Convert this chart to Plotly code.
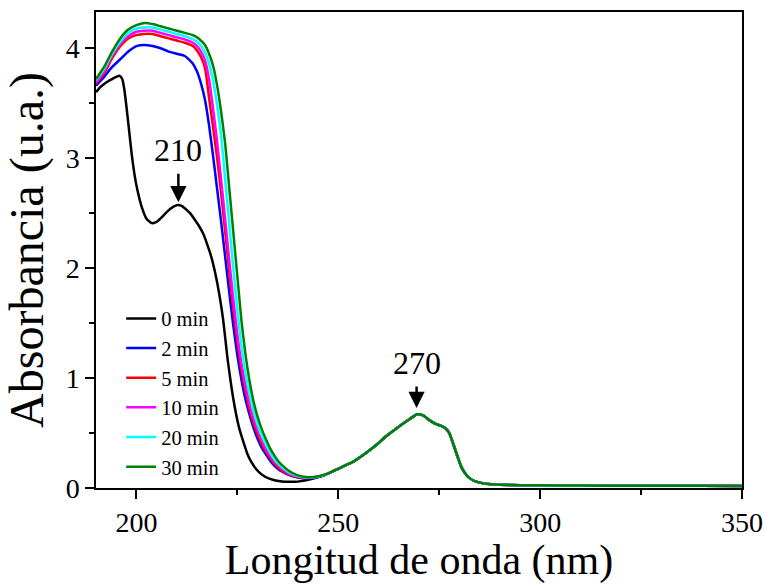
import plotly.graph_objects as go

# ---------------- data ----------------
# wavelengths (nm) for the front part of the five irradiated spectra
wl_front = [190, 192, 194, 196, 198, 200, 202, 204, 206, 208, 210, 212, 214, 215,
            216, 217, 218, 219, 220, 221, 222, 223, 224, 225, 226, 227, 228, 229,
            230, 231, 232, 233, 234, 235, 236, 238, 240, 242, 244, 246]

# common tail (all spectra practically overlap here)
wl_tail = [248, 250, 252, 254, 256, 258, 260, 262, 264, 266, 268, 269.5, 271, 272.5,
           274, 275.5, 276.5, 277.5, 278.5, 279.5, 280.5, 281.5, 282.5, 284, 286,
           288, 290, 295, 300, 310, 320, 330, 340, 350]
abs_tail = [0.14, 0.175, 0.21, 0.245, 0.295, 0.35, 0.41, 0.475, 0.53, 0.585, 0.635,
            0.67, 0.66, 0.62, 0.585, 0.565, 0.545, 0.50, 0.40, 0.29, 0.19, 0.13,
            0.09, 0.06, 0.042, 0.034, 0.03, 0.026, 0.024, 0.022, 0.021, 0.02, 0.02,
            0.019]

# 0 min spectrum (own wavelength grid, sharper features)
wl_0min = [190, 191, 192, 193, 194, 195, 195.8, 196.5, 197, 197.6, 198.2, 198.8,
           199.5, 200.2, 201.3, 202.5, 203.8, 205, 206.2, 207.5, 209, 210.2, 211.3,
           212.3, 213.3, 214.3, 215.4, 216.6, 217.6, 218.5, 219.5, 220.5, 221.5,
           222.5, 223.5, 224.5, 225.5, 226.5, 227.5, 228.5, 229.5, 230.5, 232, 234,
           236, 238, 240, 242, 244, 246]
abs_0min = [3.60, 3.645, 3.675, 3.70, 3.72, 3.74, 3.75, 3.72, 3.63, 3.45, 3.25, 3.05,
            2.86, 2.72, 2.56, 2.45, 2.41, 2.42, 2.46, 2.51, 2.555, 2.575, 2.565,
            2.535, 2.50, 2.45, 2.39, 2.31, 2.21, 2.11, 1.96, 1.77, 1.53, 1.20, 0.93,
            0.71, 0.54, 0.42, 0.31, 0.235, 0.18, 0.14, 0.10, 0.072, 0.06, 0.056,
            0.058, 0.07, 0.088, 0.108]

abs_2min = [3.66, 3.74, 3.83, 3.90, 3.97, 4.02, 4.03, 4.02, 4.00, 3.97, 3.95, 3.93,
            3.86, 3.79, 3.68, 3.53, 3.30, 3.02, 2.72, 2.42, 2.10, 1.78, 1.48, 1.21,
            0.99, 0.81, 0.67, 0.55, 0.45, 0.37, 0.31, 0.255, 0.21, 0.175, 0.15,
            0.115, 0.095, 0.088, 0.092, 0.112]
abs_5min = [3.68, 3.77, 3.91, 4.02, 4.09, 4.12, 4.13, 4.13, 4.11, 4.09, 4.07, 4.05,
            4.02, 3.98, 3.92, 3.82, 3.55, 3.28, 3.00, 2.68, 2.33, 1.97, 1.63, 1.33,
            1.08, 0.88, 0.72, 0.59, 0.49, 0.40, 0.335, 0.28, 0.23, 0.19, 0.16,
            0.12, 0.10, 0.092, 0.095, 0.113]
abs_10min = [3.69, 3.79, 3.93, 4.04, 4.11, 4.15, 4.16, 4.16, 4.14, 4.12, 4.10, 4.08,
             4.05, 4.02, 3.97, 3.89, 3.72, 3.45, 3.15, 2.80, 2.44, 2.07, 1.72, 1.40,
             1.14, 0.94, 0.77, 0.63, 0.53, 0.44, 0.36, 0.30, 0.25, 0.21, 0.175,
             0.128, 0.104, 0.094, 0.097, 0.113]
abs_20min = [3.71, 3.81, 3.95, 4.06, 4.14, 4.18, 4.19, 4.19, 4.17, 4.15, 4.13, 4.11,
             4.08, 4.06, 4.02, 3.96, 3.86, 3.70, 3.48, 3.20, 2.80, 2.40, 2.00, 1.62,
             1.30, 1.05, 0.86, 0.70, 0.58, 0.48, 0.40, 0.33, 0.27, 0.225, 0.19,
             0.138, 0.108, 0.096, 0.098, 0.114]
abs_30min = [3.72, 3.83, 3.97, 4.09, 4.17, 4.21, 4.23, 4.22, 4.20, 4.18, 4.16, 4.14,
             4.12, 4.10, 4.07, 4.03, 3.95, 3.84, 3.66, 3.42, 3.13, 2.73, 2.33, 1.93,
             1.53, 1.22, 0.98, 0.79, 0.65, 0.54, 0.45, 0.37, 0.305, 0.25, 0.21,
             0.15, 0.115, 0.10, 0.10, 0.115]

series_names = ["0 min", "2 min", "5 min", "10 min", "20 min", "30 min"]
series_colors = ["#000000", "#0000FF", "#FF0000", "#FF00FF", "#00FFFF", "#008000"]

x_ticks = [200, 250, 300, 350]
y_ticks = [0, 1, 2, 3, 4]
peak_labels = ["210", "270"]
peak_pos = [(210.4, 2.60), (269.4, 0.727)]

# ---------------- figure ----------------
FONT = "Liberation Serif"
fig = go.Figure()

all_x = [wl_0min + wl_tail] + [wl_front + wl_tail] * 5
all_y = [abs_0min, abs_2min, abs_5min, abs_10min, abs_20min, abs_30min]
for name, col, xs, ys in zip(series_names, series_colors, all_x, all_y):
    fig.add_trace(go.Scatter(
        x=xs, y=ys + abs_tail, mode="lines", name=name,
        line=dict(color=col, width=2.5, shape="spline", smoothing=0.5),
    ))

for lab, (px, py), ay in zip(peak_labels, peak_pos, [-52, -45]):
    fig.add_annotation(
        x=px, y=py, xref="x", yref="y", text=lab, showarrow=True,
        ax=0, ay=ay, arrowhead=2, arrowsize=1.3, arrowwidth=2.5,
        arrowcolor="black", startstandoff=4,
        font=dict(family=FONT, size=32, color="black"),
    )

axis_common = dict(
    showline=True, linecolor="black", linewidth=1.5, mirror=True,
    ticks="outside", ticklen=9, tickwidth=1.5, tickcolor="black",
    showgrid=False, zeroline=False,
    tickfont=dict(family=FONT, size=28, color="black"),
)

fig.update_xaxes(
    range=[190, 350], tickmode="array", tickvals=x_ticks,
    minor=dict(ticks="outside", ticklen=5, tickwidth=1.5, tickcolor="black", dtick=25, tick0=200, showgrid=False),
    title=dict(text="Longitud de onda (nm)", font=dict(family=FONT, size=42, color="black"), standoff=6),
    **axis_common,
)
fig.update_yaxes(
    range=[0, 4.33], tickmode="array", tickvals=y_ticks,
    minor=dict(ticks="outside", ticklen=5, tickwidth=1.5, tickcolor="black", dtick=0.5, tick0=0, showgrid=False),
    title=dict(text="Absorbancia (u.a.)", font=dict(family=FONT, size=48, color="black"), standoff=8),
    **axis_common,
)

fig.update_layout(
    width=767, height=584,
    margin=dict(l=96, r=25, t=12, b=96, autoexpand=False),
    plot_bgcolor="white", paper_bgcolor="white",
    showlegend=True,
    legend=dict(
        x=0.039, y=0.398, xanchor="left", yanchor="top",
        bgcolor="rgba(0,0,0,0)", borderwidth=0,
        font=dict(family=FONT, size=20.5, color="black"),
        tracegroupgap=0,
    ),
)

fig.write_html(
    "out.html",
    config={"displayModeBar": False},
    post_script="document.body.style.margin='0px';document.body.style.padding='0px';",
)
